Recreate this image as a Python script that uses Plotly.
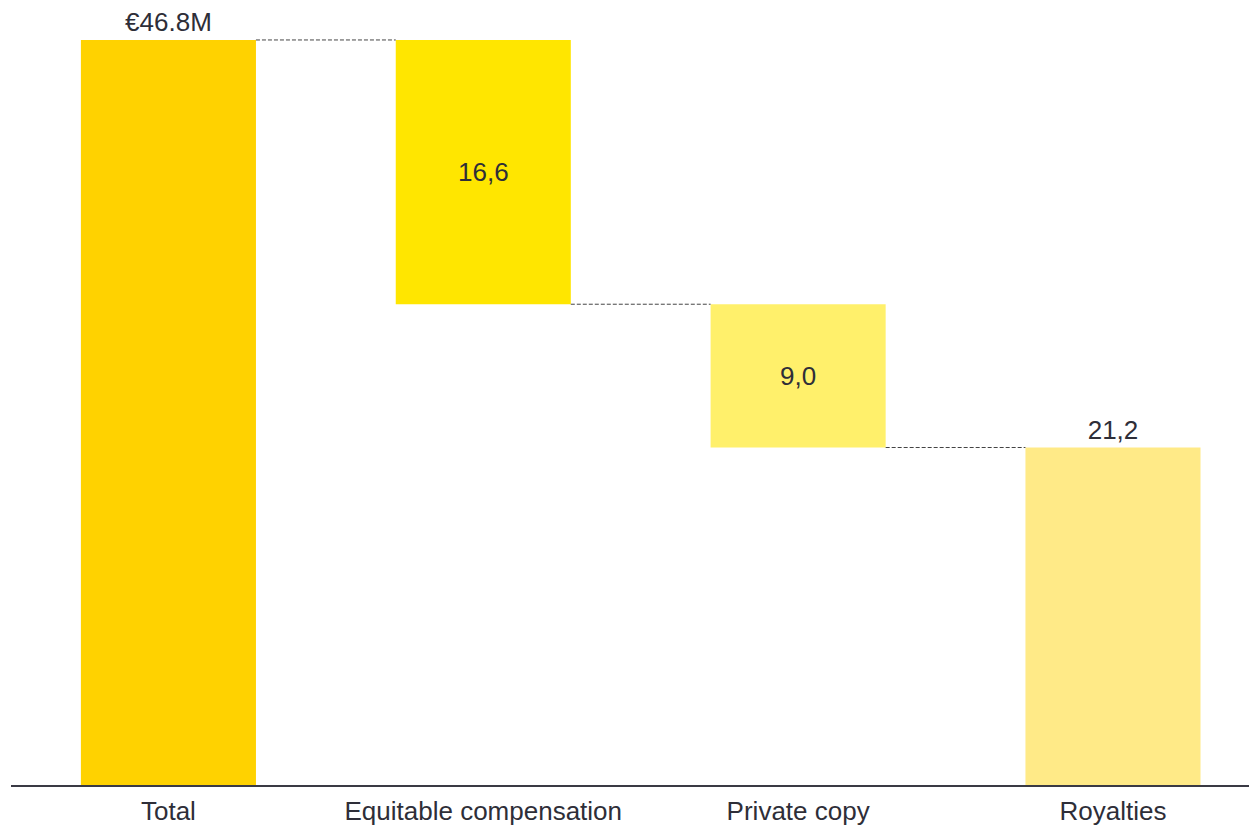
import plotly.graph_objects as go

categories = ["Total", "Equitable compensation", "Private copy", "Royalties"]
values = [46.8, 16.6, 9.0, 21.2]
labels = ["€46.8M", "16,6", "9,0", "21,2"]
measures = ["total", "relative", "relative", "total"]
colors = ["#FFD200", "#FFE600", "#FFF06B", "#FFEA87"]

TEXT = "#2E2E38"
W = 0.556

# compute bases
bases = []
tops = []
running = 0.0
for i, (v, m) in enumerate(zip(values, measures)):
    if m == "total":
        bases.append(0.0)
        tops.append(v)
        running = v if i == 0 else running
    else:
        top = running
        running = running - v
        bases.append(running)
        tops.append(top)

fig = go.Figure()
fig.add_trace(go.Bar(
    x=list(range(len(categories))),
    y=values,
    base=bases,
    width=W,
    marker=dict(color=colors, line=dict(width=0)),
    text=labels,
    textposition=["outside", "inside", "inside", "outside"],
    insidetextanchor="middle",
    textfont=dict(family="Liberation Sans, Arial, sans-serif", size=26, color=TEXT),
    cliponaxis=False,
    hoverinfo="skip",
))

# connectors
levels = [tops[0], bases[1], bases[2]]
for i in range(len(categories) - 1):
    fig.add_shape(type="line", xref="x", yref="y",
                  x0=i + W / 2, x1=i + 1 - W / 2, y0=levels[i], y1=levels[i],
                  line=dict(color="#444444", width=1, dash="4px,2px"))

fig.update_layout(
    width=1249, height=826,
    margin=dict(l=11, r=0, t=0, b=41),
    plot_bgcolor="white", paper_bgcolor="white",
    showlegend=False,
    font=dict(family="Liberation Sans, Arial, sans-serif", size=26, color=TEXT),
    xaxis=dict(
        range=[-0.5, 3.432],
        tickmode="array", tickvals=list(range(len(categories))), ticktext=categories,
        showline=True, linecolor="#3A3A44", linewidth=2,
        showgrid=False, zeroline=False, ticks="",
        ticklabelstandoff=2,
        tickfont=dict(size=26, color=TEXT),
    ),
    yaxis=dict(range=[0, 49.31], visible=False, showgrid=False, zeroline=False),
)

fig.write_html("out.html")
